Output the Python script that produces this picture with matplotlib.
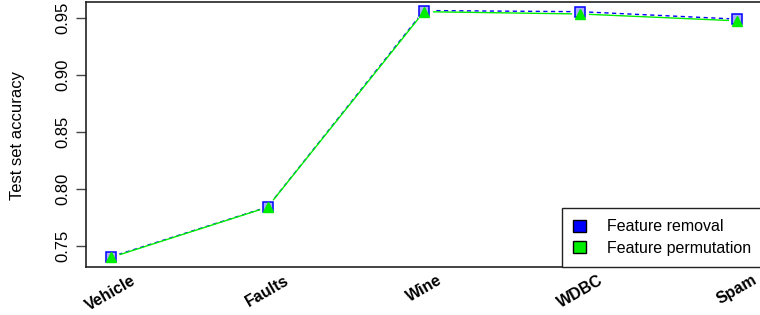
import matplotlib
matplotlib.use("Agg")
import matplotlib.pyplot as plt
from matplotlib.patches import Patch

plt.rcParams["font.family"] = ["Liberation Sans", "DejaVu Sans"]

datasets = ["Vehicle", "Faults", "Wine", "WDBC", "Spam"]
removal = [0.7405, 0.7842, 0.9565, 0.9555, 0.9490]
permutation = [0.7400, 0.7840, 0.9555, 0.9535, 0.9475]

x = list(range(1, len(datasets) + 1))

fig = plt.figure(figsize=(7.6, 3.15), dpi=100)
ax = fig.add_axes([86/760, 1 - 267/315, 676/760, 265/315])

# white discs behind points give the R type="b" gaps
ax.plot(x, removal, color="blue", lw=1, ls=(0, (3, 2.5)), zorder=2)
ax.plot(x, permutation, color="#00ee00", lw=1, ls="-", zorder=2)
ax.plot(x, removal, ls="none", marker="o", ms=12, mfc="white", mec="none", zorder=3)
ax.plot(x, permutation, ls="none", marker="o", ms=12, mfc="white", mec="none", zorder=3)
ax.plot(x, removal, ls="none", marker="s", ms=6.8, mfc="#aaaaff", mec="blue", mew=1.1, zorder=4)
ax.plot(x, permutation, ls="none", marker="^", ms=7, mfc="#00ee00", mec="#00ee00", zorder=5)

ax.set_xlim(0.84, 5.16)
ax.set_ylim(0.7316, 0.964)
ax.set_yticks([0.75, 0.80, 0.85, 0.90, 0.95])
ax.set_yticklabels(["0.75", "0.80", "0.85", "0.90", "0.95"], rotation=90, va="center", fontsize=12)
ax.tick_params(axis="y", length=7, width=1, color="#444444", pad=4)

ax.set_xticks(x)
ax.set_xticklabels(datasets, rotation=30, fontweight="bold", fontsize=11.5, ha="center")
ax.tick_params(axis="x", length=0, pad=4)
# only the last tick mark shows in the original
ax.set_xticks([5], minor=True)
ax.tick_params(axis="x", which="minor", length=10, width=1, color="#444444")

for s in ax.spines.values():
    s.set_linewidth(1.2)
    s.set_color("#222222")

fig.text(18/760, 1 - 135/315, "Test set accuracy", rotation=90, va="center", ha="center", fontsize=12)

handles = [Patch(facecolor="blue", edgecolor="black", label="Feature removal"),
           Patch(facecolor="#00ee00", edgecolor="black", label="Feature permutation")]
leg = ax.legend(handles=handles, loc="lower right", borderaxespad=0, fontsize=11.5,
                handlelength=0.8, handleheight=0.8, handletextpad=1.3, labelspacing=0.4,
                borderpad=0.7, fancybox=False, framealpha=1)
leg.get_frame().set_edgecolor("#222222")
leg.get_frame().set_linewidth(1)

fig.savefig("out.png", dpi=100)
